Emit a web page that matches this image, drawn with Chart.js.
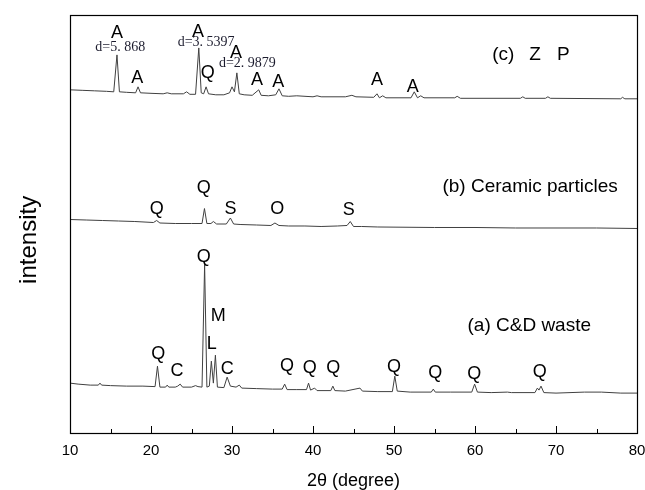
<!DOCTYPE html>
<html>
  <head>
    <title>XRD patterns</title>
    <style>
      body { margin: 0; background: #fff; }
      #xrd { display: block; }
    </style>
  </head>

  <body>
    <canvas id="xrd" width="645" height="490"></canvas>

    <script src="https://cdn.jsdelivr.net/npm/chart.js"></script>
    <script>
      // 2theta (degree) and intensity (a.u.)
      const cTheta = [10, 11.5, 13, 14.5, 15.4, 15.8, 16.1, 17, 18.1, 18.4, 18.7, 20, 21.5, 22, 22.5, 24, 24.4, 24.8, 25.5, 25.9, 26.2, 26.5, 26.8, 27.1, 28, 29, 29.7, 30, 30.3, 30.6, 30.9, 31.5, 32.5, 33.3, 33.6, 34.5, 35.4, 35.8, 36.2, 37, 38, 40, 40.5, 41, 44, 44.8, 45.3, 47.5, 47.9, 48.2, 48.6, 49, 52.1, 52.5, 52.9, 53.3, 53.7, 57.5, 57.8, 58.2, 65.6, 65.9, 66.2, 68.7, 69, 69.3, 78, 78.2, 78.5, 80];
      const cCounts = [344, 343.5, 343, 342.5, 342, 379, 342, 341.5, 341, 347, 341, 340.5, 340, 341, 340, 340, 342, 339.5, 339.5, 386, 341, 340, 347, 340, 339, 339, 341, 347, 342, 361, 340, 339, 338.5, 344, 338.5, 338, 339, 345, 338, 337.5, 338, 337, 338, 337, 337, 338.5, 337, 336.5, 340, 336, 338, 336, 336, 342, 336, 338, 336, 336, 337.5, 335.5, 335.5, 337, 335.5, 335.5, 337, 335.5, 335, 336.5, 335, 335];

      const bTheta = [10, 12, 14, 16, 18, 20.3, 20.7, 21.1, 23, 25, 26.3, 26.6, 26.9, 27.4, 27.7, 28.1, 29.3, 29.8, 30.2, 31, 33, 34.8, 35.3, 35.8, 37, 39, 41, 43, 44.2, 44.6, 45, 46, 48, 55, 60, 65, 70, 75, 80];
      const bCounts = [214, 213.5, 213, 212.5, 212, 211, 213, 210.5, 210, 210, 210, 225, 210, 210, 212, 209.5, 209.5, 215.5, 209.5, 209, 208.5, 208, 210.5, 208, 207.5, 207.5, 207, 207.5, 208, 212, 207, 207, 206.5, 206, 206, 205.5, 205.5, 205.5, 205];

      const aTheta = [10, 11, 12.5, 13.5, 13.7, 13.9, 15, 17, 19, 20.5, 20.8, 21.1, 21.8, 22, 22.2, 23, 23.3, 23.6, 23.9, 25, 25.5, 25.8, 26.3, 26.62, 26.9, 27.2, 27.45, 27.7, 27.95, 28.2, 29, 29.4, 29.8, 30.5, 30.9, 31.2, 33, 35, 36.2, 36.5, 36.8, 38, 39.2, 39.45, 39.7, 40.2, 40.5, 42.2, 42.45, 42.7, 44, 45.8, 46.1, 48, 49.8, 50.1, 50.4, 52, 54.6, 54.85, 55.1, 57, 59.6, 59.95, 60.3, 62, 64, 64.5, 67.4, 67.7, 67.9, 68.15, 68.5, 70, 73.5, 75.6, 78, 80];
      const aCounts = [50, 49, 48, 48, 50, 48, 47.5, 47, 47, 46.5, 67, 46, 46, 48, 46, 46, 47, 49, 46, 46, 47.5, 46.5, 46, 169, 46, 47, 72, 50, 78, 46, 45.5, 56, 47, 46, 48, 45, 44.5, 44, 44, 49, 43.5, 43.5, 43.5, 50, 43, 45, 42.5, 42.5, 47, 42.5, 42, 45, 42, 41.5, 41.5, 57, 42, 41, 41, 44, 41, 41, 41, 49, 41, 40.5, 41, 40.5, 40.5, 45, 43, 47, 40.5, 40, 41, 41, 40, 40];

      // peak labels: position (2theta, intensity) and text
      const phaseTheta = [15.8, 18.3, 25.8, 27.0, 30.5, 33.1, 35.7, 47.9, 52.3, 20.7, 26.5, 29.8, 35.6, 44.4, 26.5, 28.3, 27.5, 29.4, 20.9, 23.2, 36.8, 39.6, 42.5, 50.0, 55.1, 59.9, 68.0];
      const phaseCounts = [401, 356, 402, 361, 381, 354, 352, 354, 347, 225, 246, 225, 225, 224, 176, 117, 89, 64, 79, 62, 67, 65, 65, 66, 60, 59, 61];
      const phaseText = ["A", "A", "A", "Q", "A", "A", "A", "A", "A", "Q", "Q", "S", "O", "S", "Q", "M", "L", "C", "Q", "C", "Q", "Q", "Q", "Q", "Q", "Q", "Q"];

      // d-spacing notes
      const dTheta = [16.2, 26.8, 31.9];
      const dCounts = [387, 392, 371];
      const dText = ["d=5. 868", "d=3. 5397", "d=2. 9879"];

      // sample names
      const sampleTheta = [63.5, 67.4, 70.9, 66.8, 66.7];
      const sampleCounts = [379, 379, 379, 247, 107];
      const sampleText = ["(c)", "Z", "P", "(b) Ceramic particles", "(a) C&D waste"];

      const xTicks = [10, 20, 30, 40, 50, 60, 70, 80];
      const xMinorTicks = [15, 25, 35, 45, 55, 65, 75];

      const toPoints = (xs, ys) => xs.map((x, i) => ({ x: x, y: ys[i] }));

      const lineStyle = {
        borderColor: "#404040",
        borderWidth: 1,
        pointRadius: 0,
        tension: 0,
        fill: false,
      };

      const frameAndText = {
        id: "frameAndText",
        afterDatasetsDraw(chart) {
          const ctx = chart.ctx;
          const xs = chart.scales.x;
          const ys = chart.scales.y;
          const area = chart.chartArea;
          ctx.save();

          // box
          ctx.strokeStyle = "#000";
          ctx.lineWidth = 1.2;
          ctx.strokeRect(
            Math.round(area.left) + 0.5,
            Math.round(area.top) + 0.5,
            Math.round(area.right - area.left),
            Math.round(area.bottom - area.top)
          );

          // inward ticks
          ctx.lineWidth = 1;
          ctx.beginPath();
          xTicks.forEach((v) => {
            const px = Math.round(xs.getPixelForValue(v)) + 0.5;
            ctx.moveTo(px, area.bottom);
            ctx.lineTo(px, area.bottom - 7);
          });
          xMinorTicks.forEach((v) => {
            const px = Math.round(xs.getPixelForValue(v)) + 0.5;
            ctx.moveTo(px, area.bottom);
            ctx.lineTo(px, area.bottom - 4);
          });
          ctx.stroke();

          ctx.fillStyle = "#000";
          ctx.textAlign = "center";
          ctx.textBaseline = "middle";

          ctx.font = "18px 'Liberation Sans', Arial, sans-serif";
          phaseText.forEach((t, i) => {
            ctx.fillText(t, xs.getPixelForValue(phaseTheta[i]), ys.getPixelForValue(phaseCounts[i]));
          });

          ctx.font = "14px 'Liberation Serif', 'Times New Roman', serif";
          ctx.fillStyle = "#1c1c2e";
          dText.forEach((t, i) => {
            ctx.fillText(t, xs.getPixelForValue(dTheta[i]), ys.getPixelForValue(dCounts[i]));
          });

          ctx.fillStyle = "#000";
          ctx.font = "19px 'Liberation Sans', Arial, sans-serif";
          sampleText.forEach((t, i) => {
            ctx.fillText(t, xs.getPixelForValue(sampleTheta[i]), ys.getPixelForValue(sampleCounts[i]));
          });

          // axis titles
          ctx.font = "18px 'Liberation Sans', Arial, sans-serif";
          ctx.fillText("2\u03B8 (degree)", (area.left + area.right) / 2, area.bottom + 48);

          ctx.save();
          ctx.translate(29, area.top + (area.bottom - area.top) * 0.538);
          ctx.rotate(-Math.PI / 2);
          ctx.font = "24px 'Liberation Sans', Arial, sans-serif";
          ctx.fillText("intensity", 0, 0);
          ctx.restore();

          ctx.restore();
        },
      };

      new Chart(document.getElementById("xrd").getContext("2d"), {
        type: "line",
        data: {
          datasets: [
            Object.assign({ label: "(c) ZP", data: toPoints(cTheta, cCounts) }, lineStyle),
            Object.assign({ label: "(b) Ceramic particles", data: toPoints(bTheta, bCounts) }, lineStyle),
            Object.assign({ label: "(a) C&D waste", data: toPoints(aTheta, aCounts) }, lineStyle),
          ],
        },
        options: {
          responsive: false,
          animation: false,
          layout: { padding: { left: 0, top: 15, right: 8, bottom: 0 } },
          plugins: {
            legend: { display: false },
            tooltip: { enabled: false },
          },
          scales: {
            x: {
              type: "linear",
              min: 10,
              max: 80,
              grid: { display: false, drawTicks: false },
              border: { display: false },
              ticks: {
                stepSize: 10,
                padding: 9,
                color: "#000",
                font: { family: "'Liberation Sans', Arial, sans-serif", size: 15 },
              },
              afterFit: (scale) => {
                scale.height = 57;
                scale.paddingLeft = 0;
                scale.paddingRight = 0;
              },
            },
            y: {
              type: "linear",
              min: 0,
              max: 419,
              grid: { display: false, drawTicks: false },
              border: { display: false },
              ticks: { display: false },
              afterFit: (scale) => { scale.width = 70; },
            },
          },
        },
        plugins: [frameAndText],
      });
    </script>
  </body>
</html>
